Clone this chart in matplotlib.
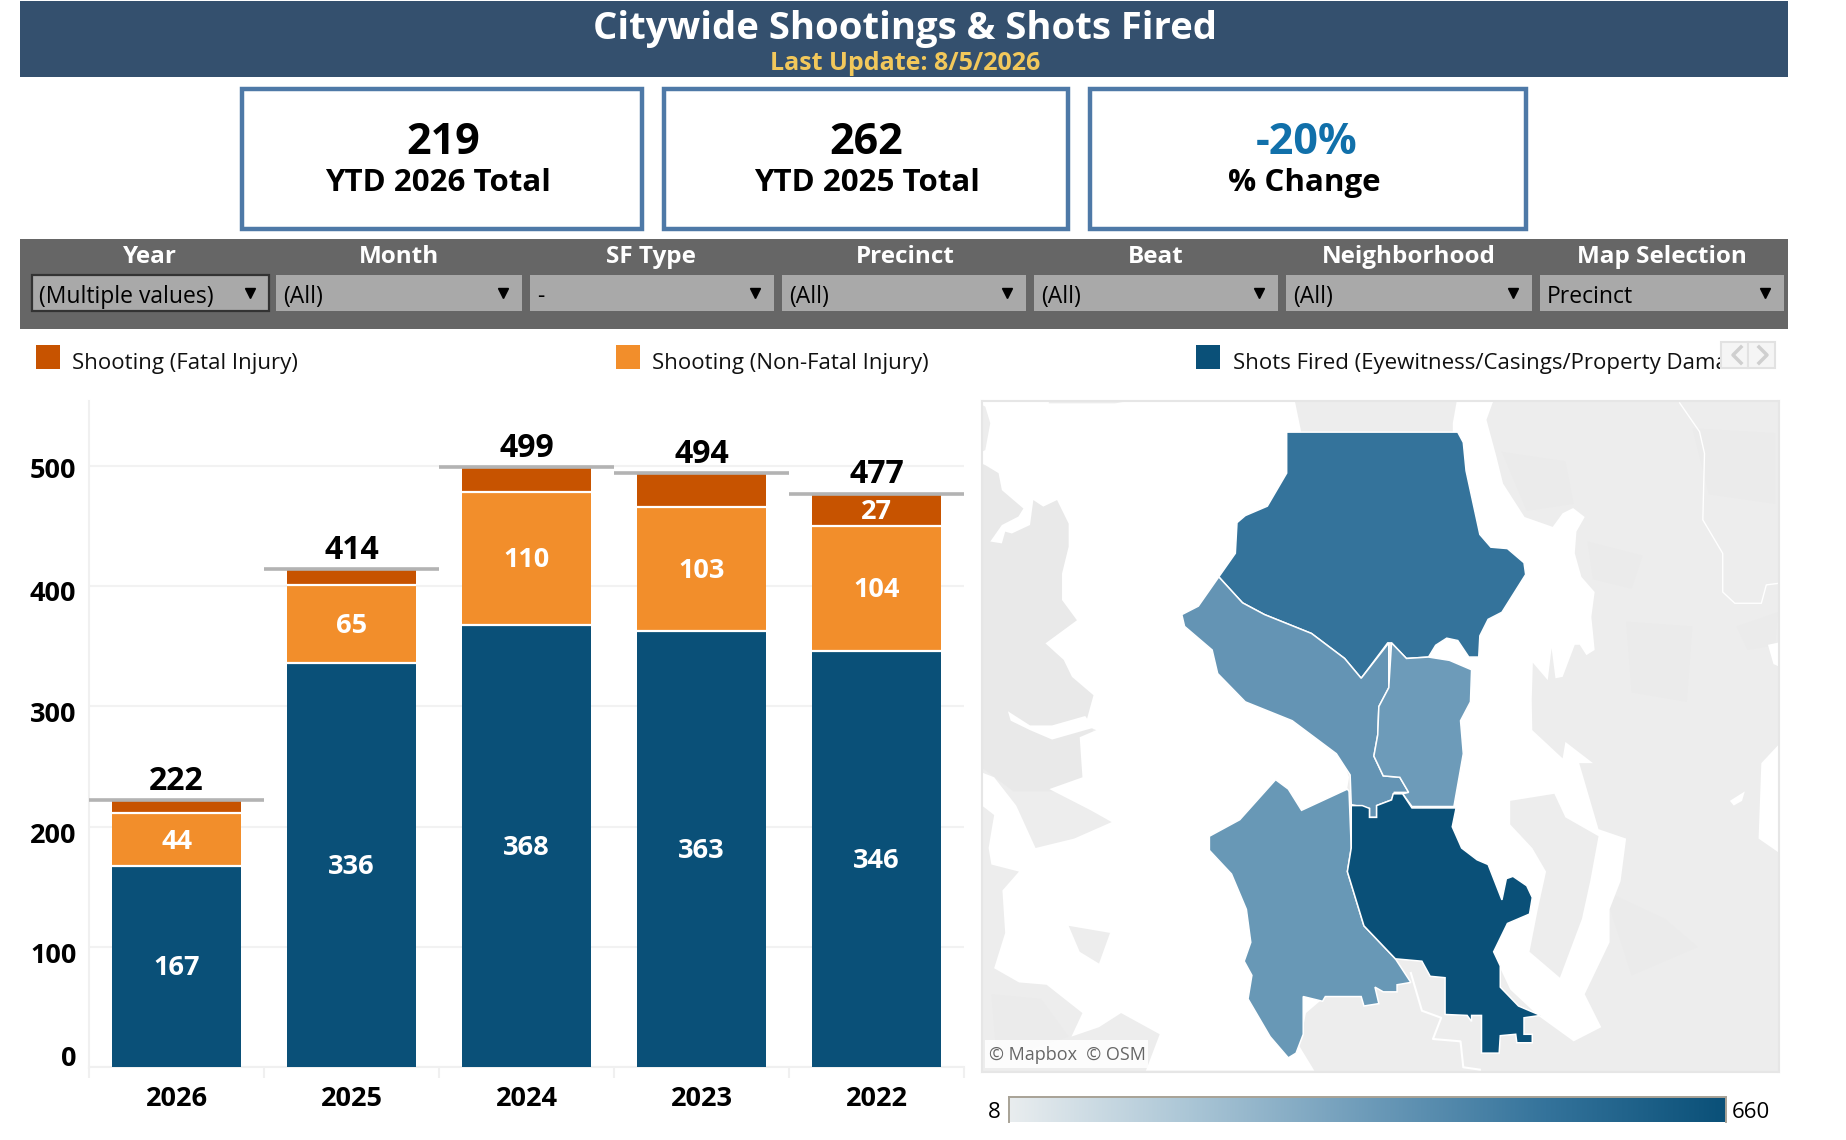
import matplotlib
matplotlib.use('Agg')
import matplotlib.pyplot as plt
from matplotlib.colors import LinearSegmentedColormap, Normalize
from matplotlib.patches import Polygon, Rectangle
import numpy as np

plt.rcParams['font.family'] = ['Open Sans', 'DejaVu Sans']

W, H = 1846, 1140

# chart data
years = ['2026', '2025', '2024', '2023', '2022']
shots_fired = [167, 336, 368, 363, 346]
non_fatal = [44, 65, 110, 103, 104]
fatal = [11, 13, 21, 28, 27]
totals = [222, 414, 499, 494, 477]
fatal_labels = ['', '', '', '', '27']
y_ticks = [0, 100, 200, 300, 400, 500]

# filter strip
filter_names = ['Year', 'Month', 'SF Type', 'Precinct', 'Beat', 'Neighborhood', 'Map Selection']
filter_values = ['(Multiple values)', '(All)', '-', '(All)', '(All)', '(All)', 'Precinct']
kpi_values = ['219', '262', '-20%']
kpi_names = ['YTD 2026 Total', 'YTD 2025 Total', '% Change']
legend_names = ['Shooting (Fatal Injury)', 'Shooting (Non-Fatal Injury)',
                'Shots Fired (Eyewitness/Casings/Property Damage)']

# precinct counts estimated from the shades on the map
color_min, color_max = 8, 660
north_count, west_count, east_count, southwest_count, south_count = 497, 362, 334, 348, 660

north = [(555,68),(865,68),(875,90),(880,150),(905,285),(925,312),(955,315),(985,345),(988,370),
         (945,450),(920,465),(905,500),(903,545),(885,545),(865,510),(845,505),(825,520),(812,545),
         (772,548),(745,515),(738,515),(690,590),(660,548),(600,495),(515,455),(475,430),(432,375),
         (462,325),(465,260),(480,245),(520,225),(555,155)]
west = [(432,375),(475,430),(515,455),(600,495),(660,548),(690,590),(740,515),(740,610),(722,650),
        (720,710),(713,755),(730,797),(760,800),(776,832),(750,832),(745,848),(718,860),(718,885),
        (705,885),(705,866),(672,858),(670,795),(645,750),(565,680),(480,640),(430,580),(420,530),
        (370,480),(365,455),(395,437)]
east = [(745,515),(772,548),(812,545),(850,552),(890,572),(888,640),(870,680),(875,750),(858,862),
        (782,862),(765,835),(776,832),(760,800),(730,797),(713,755),(720,710),(722,650),(740,610)]
southwest = [(668,830),(672,950),(665,1000),(695,1115),(752,1185),(780,1235),(755,1240),(755,1255),
             (730,1255),(715,1245),(722,1280),(695,1285),(690,1265),(625,1265),(620,1275),(585,1265),
             (585,1345),(572,1385),(558,1395),(525,1350),(485,1270),(492,1220),(478,1190),(490,1150),
             (482,1080),(455,1005),(415,955),(415,925),(470,890),(535,805),(558,825),(582,870),(665,825)]
south = [(672,860),(692,860),(705,866),(705,885),(718,885),(718,860),(745,848),(748,835),(765,835),
         (782,865),(862,865),(855,905),(872,950),(900,975),(920,985),(945,1060),(953,1015),(965,1010),
         (990,1030),(1000,1055),(995,1090),(955,1110),(930,1170),(942,1200),(942,1245),(975,1285),
         (1015,1305),(985,1310),(985,1345),(1000,1345),(1000,1363),(972,1363),(970,1345),(942,1348),
         (940,1385),(908,1385),(908,1305),(890,1305),(890,1318),(882,1305),(842,1303),(842,1225),
         (815,1222),(800,1190),(752,1185),(695,1115),(665,1000),(672,950)]
water_west = [(3,3),(124,3),(124,7),(244,7),(265,3),(570,3),(580,60),(620,300),(520,500),(640,700),
              (668,800),(640,1000),(640,1250),(590,1300),(578,1370),(605,1422),(300,1422),(325,1345),
              (255,1300),(215,1330),(165,1350),(185,1300),(120,1240),(70,1235),(25,1205),(45,1130),
              (40,1040),(70,1000),(20,985),(15,950),(25,880),(3,860),(3,790),(25,800),(65,860),(100,950),
              (170,930),(238,895),(200,870),(125,825),(185,800),(180,715),(210,700),(190,690),(205,626),
              (166,587),(151,551),(118,516),(175,467),(148,424),(148,368),(160,311),(160,262),(139,212),
              (114,226),(96,212),(90,265),(57,283),(45,279),(39,304),(18,300),(39,265),(69,247),(78,230),
              (39,191),(33,155),(9,138),(3,135),(3,110),(9,106),(18,49),(9,14),(3,10)]
water_east = [(863,3),(929,3),(917,42),(935,120),(947,177),(986,248),(1037,269),(1055,240),(1074,229),
              (1095,248),(1080,279),(1077,325),(1089,375),(1113,407),(1107,460),(1110,494),(1113,530),
              (1098,541),(1086,519),(1077,519),(1055,587),(1042,590),(1035,526),(1028,594),(1001,557),
              (999,636),(1000,700),(1055,760),(1060,725),(1110,770),(1085,770),(1120,910),(1170,930),
              (1160,1020),(1140,1080),(1140,1150),(1095,1260),(1125,1330),(1075,1360),(1010,1305),
              (960,1250),(900,1100),(800,900),(800,560),(800,300),(856,100),(856,49)]
water_inlet = [(50,660),(90,690),(130,690),(190,670),(205,695),(130,720),(90,700),(55,680)]
water_right = [(1447,730),(1415,770),(1410,930),(1447,960)]
water_right2 = [(1427,519),(1447,514),(1447,565),(1437,560)]
water_pond = [(1358,850),(1385,830),(1380,850),(1365,860)]
mercer_island = [(960,850),(1040,835),(1060,885),(1120,925),(1105,1020),(1090,1100),(1050,1225),
                 (995,1170),(1010,1080),(1025,1000),(1000,950),(960,900)]
blake_island = [(160,1115),(235,1130),(215,1195),(180,1170)]
road_north = [(1267,6),(1303,67),(1312,113),(1309,254),(1345,325),(1345,407),(1367,431),(1415,431),(1424,392),(1444,389)]
river_south = [(780,1215),(800,1295),(835,1310),(820,1355),(870,1360),(875,1415),(905,1420)]
# slightly darker blotches in the basemap land
land_west = [(3,130),(160,200),(210,640),(190,830),(60,830),(3,780)]
land_blotches = [[(945,110),(1060,130),(1075,220),(990,235)],
                 [(1170,470),(1290,480),(1280,640),(1180,620)],
                 [(1290,60),(1440,70),(1440,220),(1320,200)],
                 [(1100,300),(1200,330),(1180,400),(1110,380)],
                 [(1370,480),(1445,450),(1440,520),(1390,530)],
                 [(1130,1040),(1240,1100),(1300,1160),(1180,1220)],
                 [(20,1260),(110,1270),(160,1350),(30,1400)]]

NAVY = '#0a5078'
ORANGE = '#f28e2b'
RUST = '#c75300'
LAND = '#ededed'

fig = plt.figure(figsize=(W / 100, H / 100), dpi=100, facecolor='white')


def axes_px(x0, y0, x1, y1):
    return fig.add_axes([x0 / W, 1 - y1 / H, (x1 - x0) / W, (y1 - y0) / H])


# page furniture is laid out in pixels on one big transparent axes
page = axes_px(0, 0, W, H)
page.set_xlim(0, W)
page.set_ylim(H, 0)
page.axis('off')

page.add_patch(Rectangle((20, 1), 1768, 76, fc='#34506e', ec='none'))
page.text(905, 28.5, 'Citywide Shootings & Shots Fired', color='white', fontsize=27.5, fontweight='bold',
          ha='center', va='center')
page.text(905, 63, 'Last Update: 8/5/2026', color='#f2c85b', fontsize=18, fontweight='bold',
          ha='center', va='center')

kpi_boxes = [(242, 89, 642, 229), (664, 89, 1068, 229), (1090, 89, 1526, 229)]
kpi_value_x = [443, 866, 1307]
kpi_name_x = [438, 867, 1304]
kpi_colors = ['black', 'black', '#1170aa']
for i in range(3):
    x0, y0, x1, y1 = kpi_boxes[i]
    page.add_patch(Rectangle((x0, y0), x1 - x0, y1 - y0, fc='white', ec='#4e79a7', lw=3.2))
    page.text(kpi_value_x[i], 142, kpi_values[i], color=kpi_colors[i], fontsize=31, fontweight='bold',
              ha='center', va='center')
    page.text(kpi_name_x[i], 183, kpi_names[i], color='black', fontsize=22.5, fontweight='bold',
              ha='center', va='center')

page.add_patch(Rectangle((20, 239), 1768, 90, fc='#666666', ec='none'))
label_x = [150, 399, 651, 905, 1156, 1409, 1662]
drop_left = [32, 276, 530, 782, 1034, 1286, 1540]
drop_right = [269, 522, 774, 1026, 1278, 1532, 1784]
for i in range(7):
    page.text(label_x[i], 257, filter_names[i], color='white', fontsize=17.5, fontweight='bold',
              ha='center', va='center')
    active = i == 0
    page.add_patch(Rectangle((drop_left[i], 275), drop_right[i] - drop_left[i], 36, fc='#a9a9a9',
                             ec='#333333' if active else 'none', lw=1.6 if active else 0))
    page.text(drop_left[i] + 7, 297, filter_values[i], color='black', fontsize=16.5, ha='left', va='center')
    page.plot([drop_right[i] - 19], [293], marker='v', ms=6.5, color='black', ls='none')

swatch_x = [36, 616, 1196]
legend_text_x = [72, 652, 1233]
legend_colors = [RUST, ORANGE, NAVY]
clip = Rectangle((0, 330), 1720, 60, transform=page.transData)
for i in range(3):
    page.add_patch(Rectangle((swatch_x[i], 345), 24, 24, fc=legend_colors[i], ec='none'))
    t = page.text(legend_text_x[i], 363, legend_names[i], color='#111111', fontsize=16, ha='left',
                  va='center')
    t.set_clip_on(True)
    t.set_clip_path(clip)

# scroll buttons beside the legend
for x0, pts in [(1721, [(1741, 347), (1733, 355), (1741, 363)]),
                (1748, [(1759, 347), (1767, 355), (1759, 363)])]:
    page.add_patch(Rectangle((x0, 342), 27, 26, fc='#f5f5f5', ec='#e2e2e2', lw=1.5))
    page.plot([p[0] for p in pts], [p[1] for p in pts], color='#cfcfcf', lw=2.5)

# stacked bars
ax = axes_px(89, 401, 964, 1067)
x = np.arange(len(years))
ax.set_xlim(-0.5, 4.5)
ax.set_ylim(0, 554)
ax.patch.set_alpha(0)
ax.set_axisbelow(True)
ax.grid(axis='y', color='#f2f2f2', lw=1.5)

bar_width = 0.74
bottom2 = np.array(shots_fired) + np.array(non_fatal)
ax.bar(x, shots_fired, bar_width, color=NAVY, zorder=3)
ax.bar(x, non_fatal, bar_width, bottom=shots_fired, color=ORANGE, zorder=3)
ax.bar(x, fatal, bar_width, bottom=bottom2, color=RUST, zorder=3)
# thin white rule on top of each lower segment
ax.hlines(shots_fired, x - bar_width / 2, x + bar_width / 2, color='white', lw=1.6, zorder=4)
ax.hlines(bottom2, x - bar_width / 2, x + bar_width / 2, color='white', lw=1.6, zorder=4)
ax.hlines(totals, x - 0.5, x + 0.5, color='#b3b3b3', lw=2.6, zorder=5)


def inner_label(xpos, ypos, text):
    ax.annotate(text, (xpos, ypos), xytext=(0, -1.3), textcoords='offset points', color='white',
                fontsize=19.5, fontweight='bold', ha='center', va='center', zorder=6)


for i in range(len(years)):
    inner_label(x[i], shots_fired[i] / 2, str(shots_fired[i]))
    inner_label(x[i], shots_fired[i] + non_fatal[i] / 2, str(non_fatal[i]))
    if fatal_labels[i]:
        inner_label(x[i], bottom2[i] + fatal[i] / 2, fatal_labels[i])
    ax.annotate(str(totals[i]), (x[i], totals[i]), xytext=(0, 13.6), textcoords='offset points',
                color='black', fontsize=23, fontweight='bold', ha='center', va='center', zorder=6)

for side in ['top', 'right']:
    ax.spines[side].set_visible(False)
for side in ['left', 'bottom']:
    ax.spines[side].set_color('#f0f0f0')
    ax.spines[side].set_linewidth(1.5)

ax.set_xticks(x)
ax.set_xticklabels(years, fontsize=19.5, fontweight='bold', color='black')
ax.set_xticks(np.arange(-0.5, 5), minor=True)
ax.tick_params(axis='x', which='major', length=0, pad=13.5)
ax.tick_params(axis='x', which='minor', length=8, color='#f0f0f0', width=1.5)

# Tableau nudges the outer tick labels to stay inside the pane
tick_nudge = [5.5, -6.5, -6.5, -6.5, -5.5, -4]
ax.set_yticks(y_ticks)
ax.set_yticklabels([])
ax.tick_params(axis='y', length=0)
for tick, nudge in zip(y_ticks, tick_nudge):
    ax.annotate(str(tick), (0, tick), xycoords=('axes fraction', 'data'),
                xytext=(-9, nudge), textcoords='offset points', color='black', fontsize=19.5,
                fontweight='bold', ha='right', va='center')

# map panel
shades = LinearSegmentedColormap.from_list('tableau_blue', [(0, '#e9edef'), (0.25, '#abc6d6'), (0.5, '#6d9bb9'),
                                                            (0.75, '#34739b'), (1, NAVY)])
norm = Normalize(color_min, color_max)

mp = axes_px(982, 401, 1779, 1072)
mp.set_xlim(3, 1447)
mp.set_ylim(1425, 2)
mp.set_xticks([])
mp.set_yticks([])
mp.set_facecolor(LAND)
for s in mp.spines.values():
    s.set_color('#e6e6e6')
    s.set_linewidth(1.5)

mp.add_patch(Polygon(land_west, closed=True, fc='#e9e9e9', ec='none', zorder=0.5))
for shape in land_blotches:
    mp.add_patch(Polygon(shape, closed=True, fc='#ebebeb', ec='none', zorder=0.5))
for shape in [water_west, water_east, water_inlet, water_right, water_right2, water_pond]:
    mp.add_patch(Polygon(shape, closed=True, fc='white', ec='none', zorder=1))
for shape in [mercer_island, blake_island]:
    mp.add_patch(Polygon(shape, closed=True, fc=LAND, ec='none', zorder=2))
mp.plot([p[0] for p in road_north], [p[1] for p in road_north], color='white', lw=1, zorder=2)
mp.plot([p[0] for p in river_south], [p[1] for p in river_south], color='white', lw=1.5, zorder=2)

regions = [(north, north_count), (west, west_count), (east, east_count),
           (southwest, southwest_count), (south, south_count)]
for shape, count in regions:
    mp.add_patch(Polygon(shape, closed=True, fc=shades(norm(count)), ec='white', lw=1.1, zorder=3))

mp.add_patch(Rectangle((8, 1357), 295, 60, fc='white', alpha=0.85, ec='none', zorder=4))
mp.text(15, 1390, '© Mapbox  © OSM', color='#666666', fontsize=13, ha='left', va='center', zorder=5)

# colour ramp under the map
bar = axes_px(1009, 1097, 1726, 1122)
bar.imshow(np.linspace(0, 1, 256).reshape(1, -1), cmap=shades, aspect='auto', extent=(color_min, color_max, 0, 1))
bar.set_xticks([])
bar.set_yticks([])
bar.spines['bottom'].set_visible(False)
for side in ['top', 'left', 'right']:
    bar.spines[side].set_color('#a8a296')
    bar.spines[side].set_linewidth(1.4)

page.text(994, 1112, str(color_min), color='black', fontsize=16, ha='center', va='center')
page.text(1732, 1112, str(color_max), color='black', fontsize=16, ha='left', va='center')

fig.savefig('out.png', dpi=100)
